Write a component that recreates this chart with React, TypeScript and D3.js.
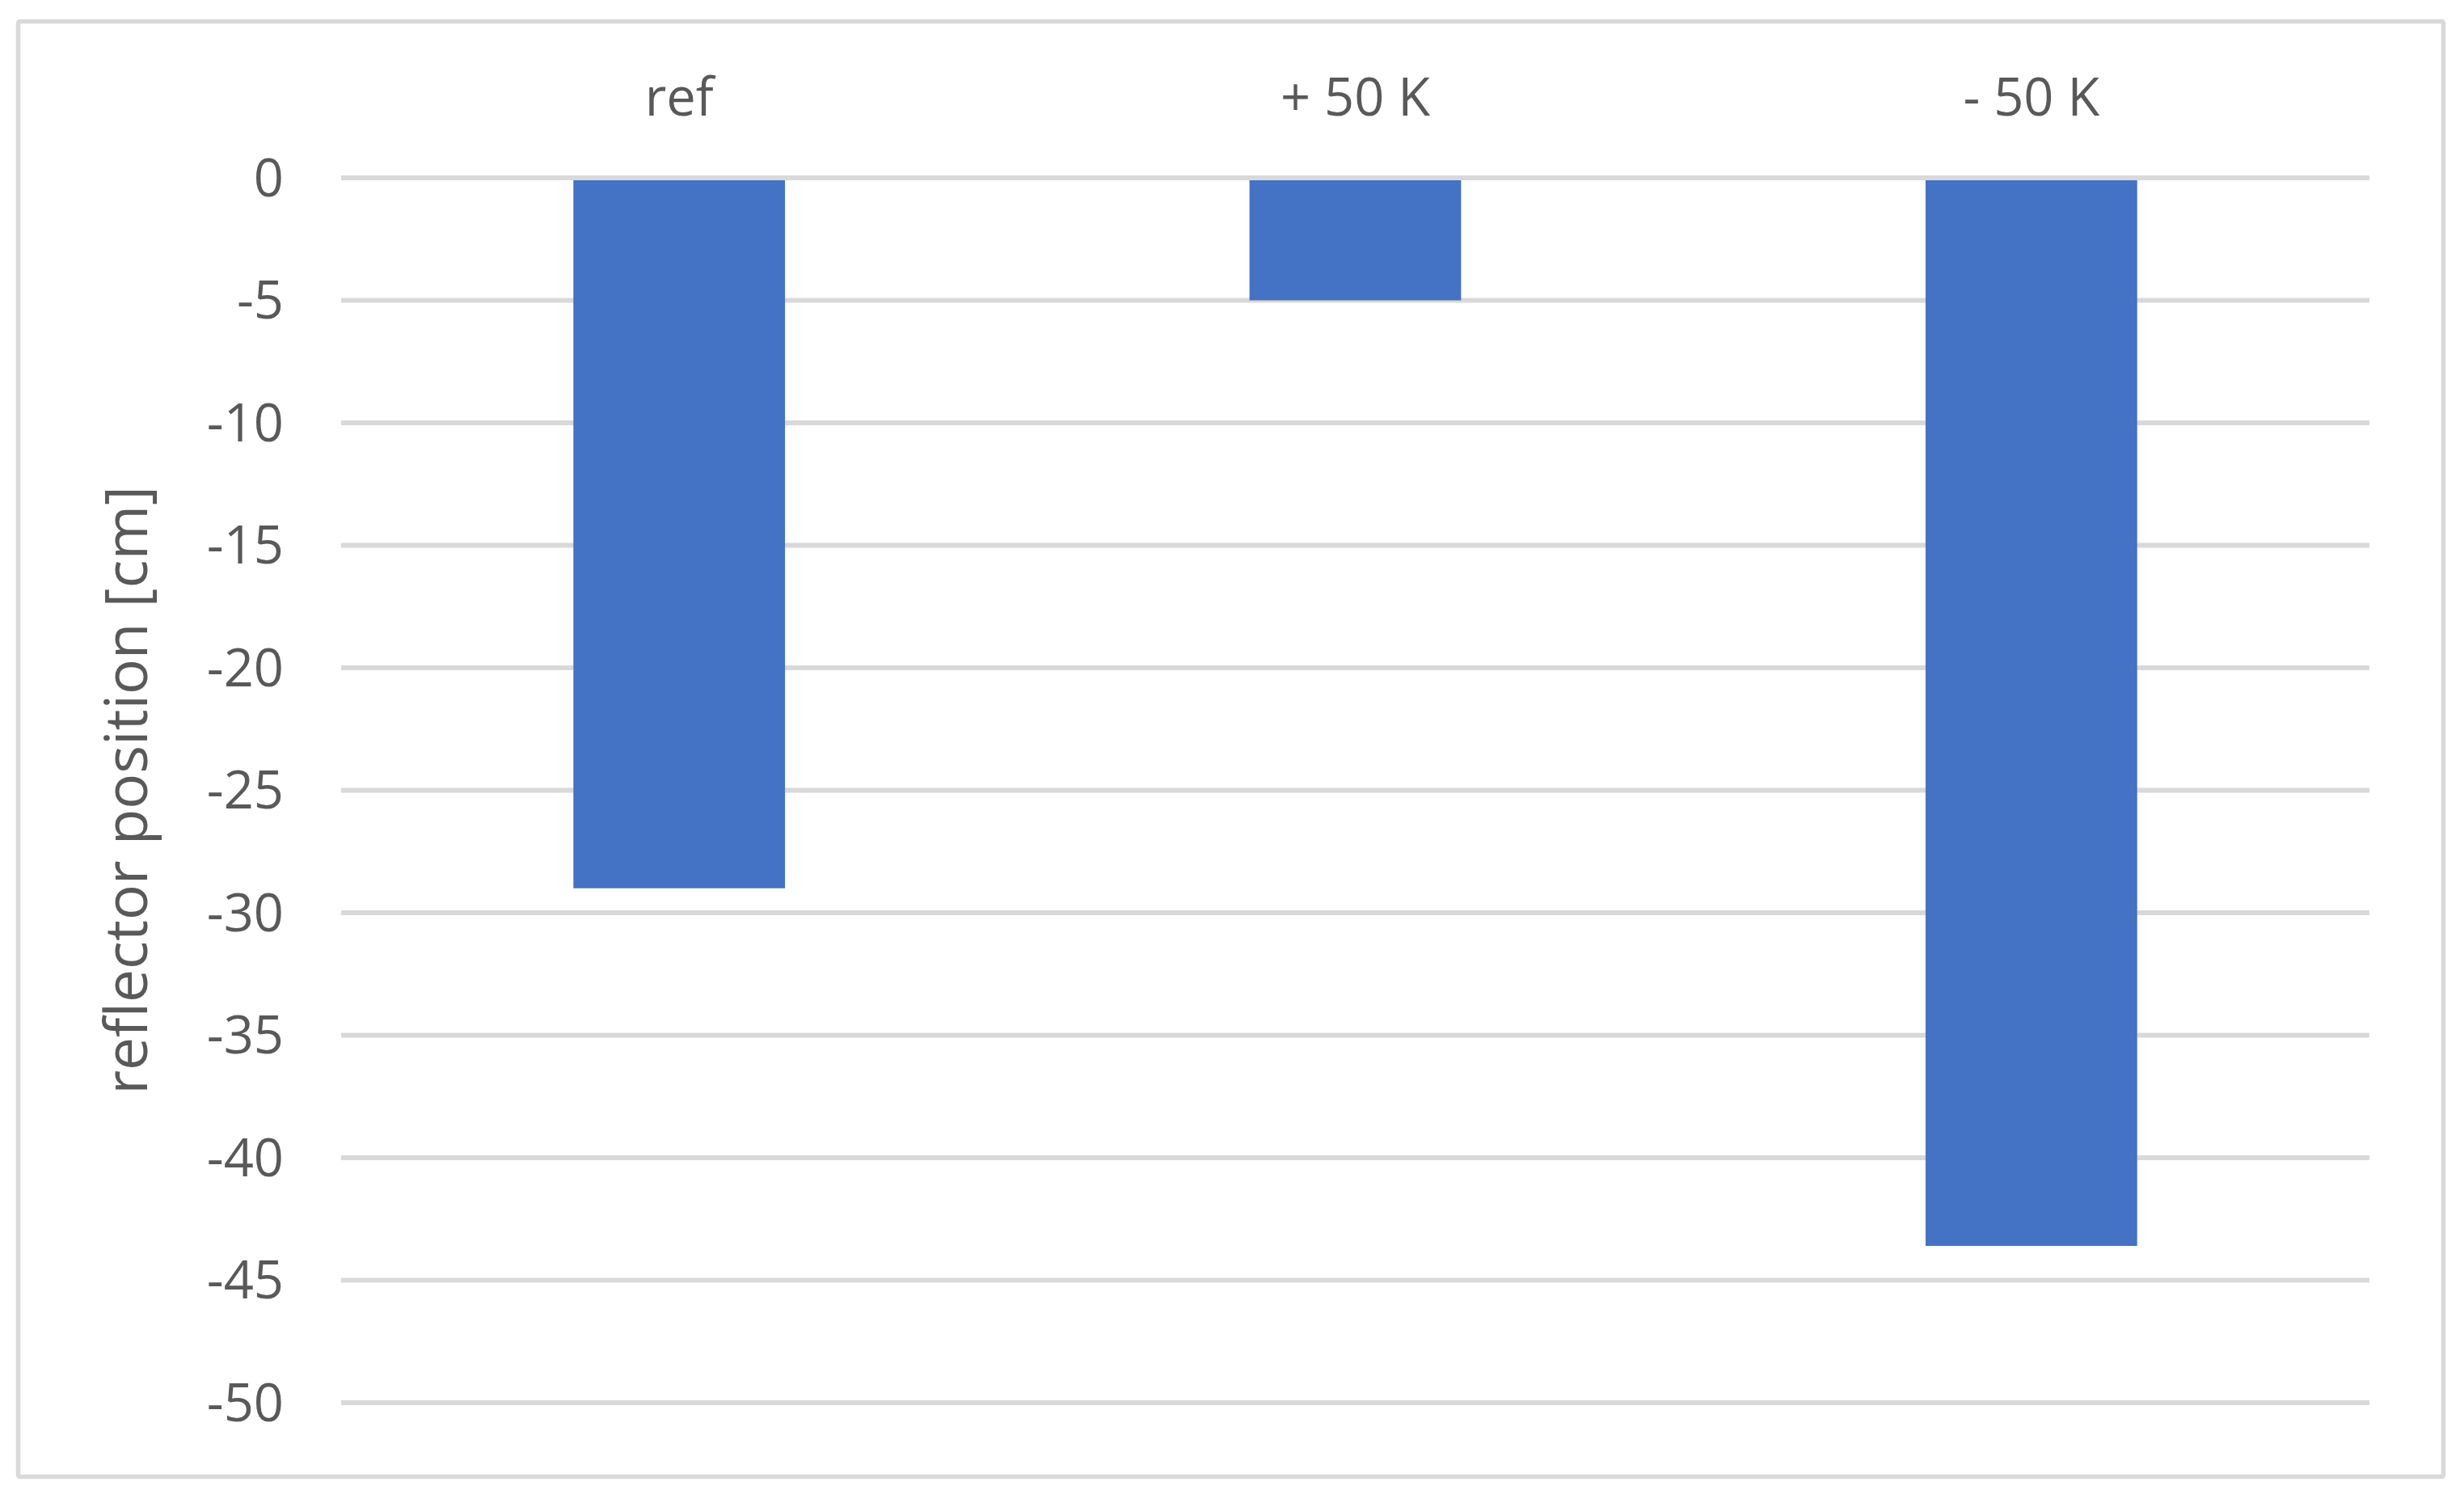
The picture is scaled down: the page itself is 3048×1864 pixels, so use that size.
import React from "react";
import * as d3 from "d3";

const categories = ["ref", "+ 50 K", "- 50 K"];
const values = [-29, -5, -43.6];
const yTicks = [0, -5, -10, -15, -20, -25, -30, -35, -40, -45, -50];
const yTitle = "reflector position [cm]";

const W = 3048;
const H = 1864;
const FONT = "'Open Sans', 'Noto Sans', sans-serif";
const TEXT = "#595959";
const GRID = "#d9d9d9";
const BAR = "#4472c4";

export default function App() {
  const x = d3
    .scaleBand<string>()
    .domain(categories)
    .range([422, 2931])
    .paddingInner(0.687)
    .paddingOuter(0.3435);
  const y = d3.scaleLinear().domain([-50, 0]).range([1735, 220]);

  return (
    <div style={{ position: "absolute", left: 0, top: 0, width: W, height: H, background: "#fff" }}>
      <svg width={W} height={H} style={{ display: "block" }}>
        <rect x={0} y={0} width={W} height={H} fill="#fff" />
        <rect
          x={22.5}
          y={26.5}
          width={3000}
          height={1800}
          fill="#fff"
          stroke={GRID}
          strokeWidth={5.5}
          rx={2}
        />
        {yTicks.map((t) => (
          <line
            key={"g" + t}
            x1={422}
            x2={2931}
            y1={y(t)}
            y2={y(t)}
            stroke={GRID}
            strokeWidth={6}
          />
        ))}
        {categories.map((c, i) => {
          const v = values[i];
          const y0 = y(0) + 3;
          const y1 = y(v);
          return (
            <rect
              key={c}
              x={x(c)}
              y={Math.min(y0, y1)}
              width={x.bandwidth()}
              height={Math.abs(y1 - y0)}
              fill={BAR}
            />
          );
        })}
        {yTicks.map((t) => (
          <text
            key={"t" + t}
            x={351}
            y={y(t)}
            dy="0.35em"
            textAnchor="end"
            fontFamily={FONT}
            fontSize={65}
            fill={TEXT}
          >
            {t}
          </text>
        ))}
        {categories.map((c) => (
          <text
            key={"c" + c}
            x={(x(c) as number) + x.bandwidth() / 2}
            y={143}
            textAnchor="middle"
            fontFamily={FONT}
            fontSize={65}
            fill={TEXT}
          >
            {c}
          </text>
        ))}
        <text
          transform={`translate(182, ${(y(0) + y(-50)) / 2}) rotate(-90)`}
          textAnchor="middle"
          fontFamily={FONT}
          fontSize={73}
          fill={TEXT}
        >
          {yTitle}
        </text>
      </svg>
    </div>
  );
}
